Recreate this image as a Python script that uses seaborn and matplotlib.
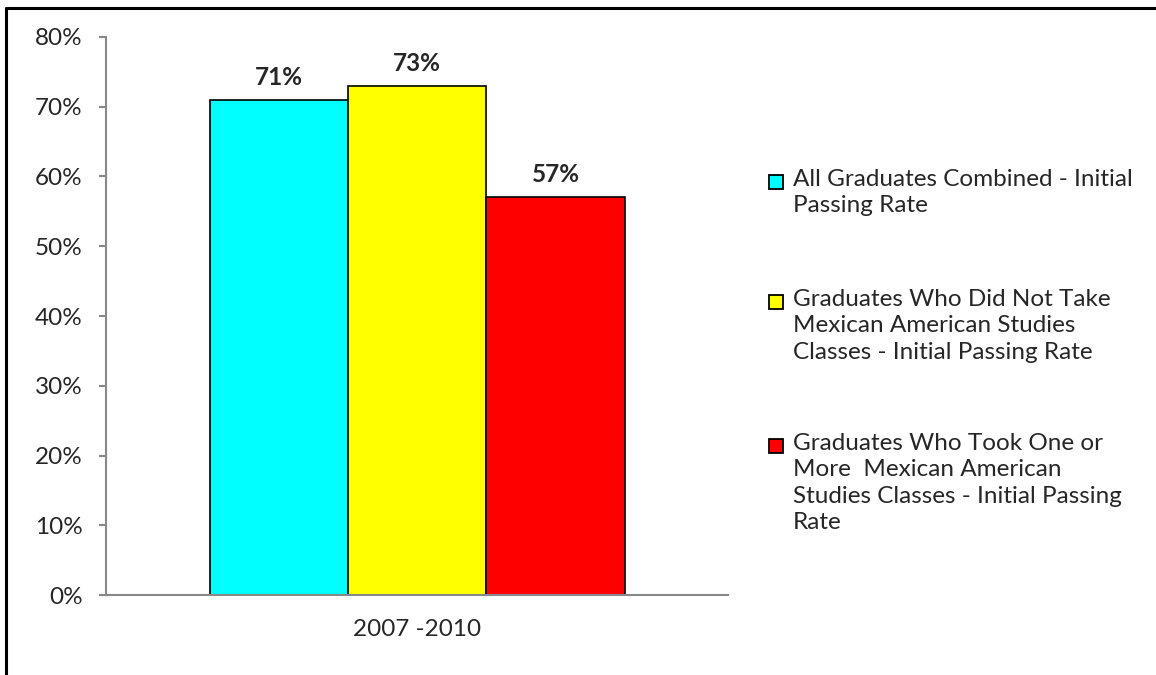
import matplotlib
matplotlib.use("Agg")
import matplotlib.pyplot as plt
import matplotlib.ticker as mticker
from matplotlib.lines import Line2D
from matplotlib.patches import Rectangle
import pandas as pd
import seaborn as sns

period = ["2007 -2010"]
groups = [
    "All Graduates Combined - Initial\nPassing Rate",
    "Graduates Who Did Not Take\nMexican American Studies\nClasses - Initial Passing Rate",
    "Graduates Who Took One or\nMore  Mexican American\nStudies Classes - Initial Passing\nRate",
]
rates = [0.71, 0.73, 0.57]
colors = ["#00FFFF", "#FFFF00", "#FF0000"]
y_ticks = [0.0, 0.1, 0.2, 0.3, 0.4, 0.5, 0.6, 0.7, 0.8]

df = pd.DataFrame({"Period": period * 3, "Group": groups, "Rate": rates})

sns.set_style("white")
plt.rcParams["font.family"] = ["Lato", "DejaVu Sans"]
FS = 17.5

fig = plt.figure(figsize=(11.56, 6.75), dpi=100)
ax = fig.add_axes([0.0921, 0.1185, 0.5377, 0.8267])

sns.barplot(df, x="Period", y="Rate", hue="Group", palette=colors, hue_order=groups,
            width=0.667, gap=0, edgecolor="black", linewidth=1.2, saturation=1,
            legend=False, ax=ax)

for cont in ax.containers:
    ax.bar_label(cont, labels=[f"{v * 100:.0f}%" for v in cont.datavalues],
                 padding=8, fontsize=FS, fontweight="bold")

ax.set_xlim(-0.5, 0.5)
ax.set_ylim(0, 0.8)
ax.set_yticks(y_ticks)
ax.yaxis.set_major_formatter(mticker.PercentFormatter(1.0, decimals=0))
ax.set_xticks([-0.5, 0.5], ["", ""])
ax.set_xticks([0], period, minor=True)
ax.tick_params(axis="x", which="major", direction="out", length=5, color="#888888", width=1.5)
ax.tick_params(axis="x", which="minor", length=0, pad=17, labelsize=FS)
ax.tick_params(axis="y", direction="out", length=5, color="#888888", width=1.5,
               pad=12, labelsize=FS, left=True)
ax.set_xlabel("")
ax.set_ylabel("")
for side in ["top", "right"]:
    ax.spines[side].set_visible(False)
for side in ["left", "bottom"]:
    ax.spines[side].set_color("#888888")
    ax.spines[side].set_linewidth(1.5)

# legend drawn by hand so the swatch sits on the first text line
W, H = 1156, 675
first_line = [182, 302, 446]
for name, col, yc in zip(groups, colors, first_line):
    fig.add_artist(Rectangle((769 / W, 1 - (yc + 7) / H), 14 / W, 14 / H,
                             facecolor=col, edgecolor="black", linewidth=1.3,
                             transform=fig.transFigure))
    fig.text(793 / W, 1 - (yc - 13) / H, name, fontsize=FS, va="top", ha="left",
             linespacing=1.32)

# outer frame
fig.add_artist(Line2D([6 / W, 1], [1 - 8 / H, 1 - 8 / H], color="black", linewidth=2.2,
                      transform=fig.transFigure))
fig.add_artist(Line2D([6 / W, 6 / W], [0, 1 - 8 / H], color="black", linewidth=2.2,
                      transform=fig.transFigure))

fig.savefig("out.png", dpi=100)
